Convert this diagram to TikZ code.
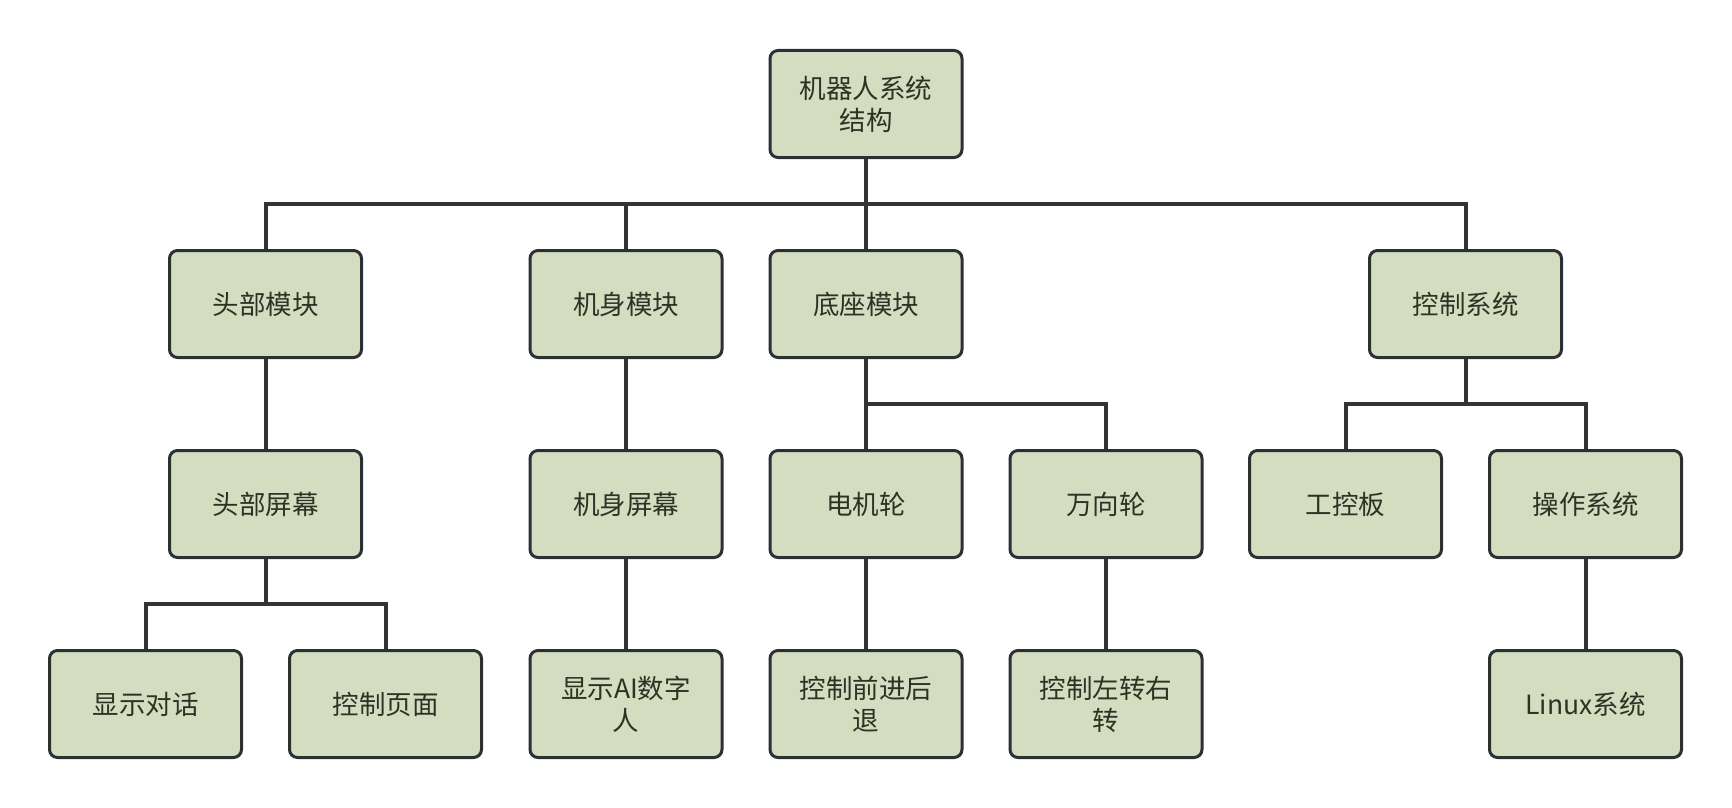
\documentclass[tikz,border=0pt]{standalone}
\usepackage{fontspec}
\newfontfamily\cjk{Noto Sans CJK SC}
\usetikzlibrary{positioning,calc}
\definecolor{boxfill}{HTML}{D4DDBF}
\definecolor{boxline}{HTML}{2B3035}
\definecolor{linkline}{HTML}{333333}
\definecolor{boxtext}{HTML}{2B3325}

\begin{document}
\begin{tikzpicture}[
  x=1pt,y=-1pt,
  font=\cjk\fontsize{26.5}{32}\selectfont,
  block/.style={draw=boxline,line width=3pt,rounded corners=8pt,fill=boxfill,
    text=boxtext,minimum width=192pt,minimum height=107pt,align=center,inner sep=0pt},
  link/.style={draw=linkline,line width=4pt}
]
\useasboundingbox (0,0) rectangle (1732,808);

% root
\node[block] (root) at (866,104) {机器人系统\\结构};

% modules
\node[block] (head) at (265.5,304) {头部模块};
\node[block] (body) at (626,304) {机身模块};
\node[block] (base) at (866,304) {底座模块};
\node[block] (ctrl) at (1465.5,304) {控制系统};

% second level
\node[block] (headscr) at (265.5,504) {头部屏幕};
\node[block] (bodyscr) at (626,504) {机身屏幕};
\node[block] (motor) at (866,504) {电机轮};
\node[block] (omni) at (1106,504) {万向轮};
\node[block] (ipc) at (1345.5,504) {工控板};
\node[block] (os) at (1585.5,504) {操作系统};

% third level
\node[block] (dialog) at (145.5,704) {显示对话};
\node[block] (page) at (385.5,704) {控制页面};
\node[block] (avatar) at (626,704) {显示AI数字\\人};
\node[block] (fwd) at (866,704) {控制前进后\\退};
\node[block] (turn) at (1106,704) {控制左转右\\转};
\node[block] (linux) at (1585.5,704) {Linux系统};

% connectors
\foreach \n in {head,body,base,ctrl}
  \draw[link] (root.south) -- ++(0,45) -| (\n.north);
\draw[link] (head.south) -- (headscr.north);
\draw[link] (body.south) -- (bodyscr.north);
\foreach \n in {motor,omni}
  \draw[link] (base.south) -- ++(0,45) -| (\n.north);
\foreach \n in {ipc,os}
  \draw[link] (ctrl.south) -- ++(0,45) -| (\n.north);
\foreach \n in {dialog,page}
  \draw[link] (headscr.south) -- ++(0,45) -| (\n.north);
\draw[link] (bodyscr.south) -- (avatar.north);
\draw[link] (motor.south) -- (fwd.north);
\draw[link] (omni.south) -- (turn.north);
\draw[link] (os.south) -- (linux.north);
\end{tikzpicture}
\end{document}
